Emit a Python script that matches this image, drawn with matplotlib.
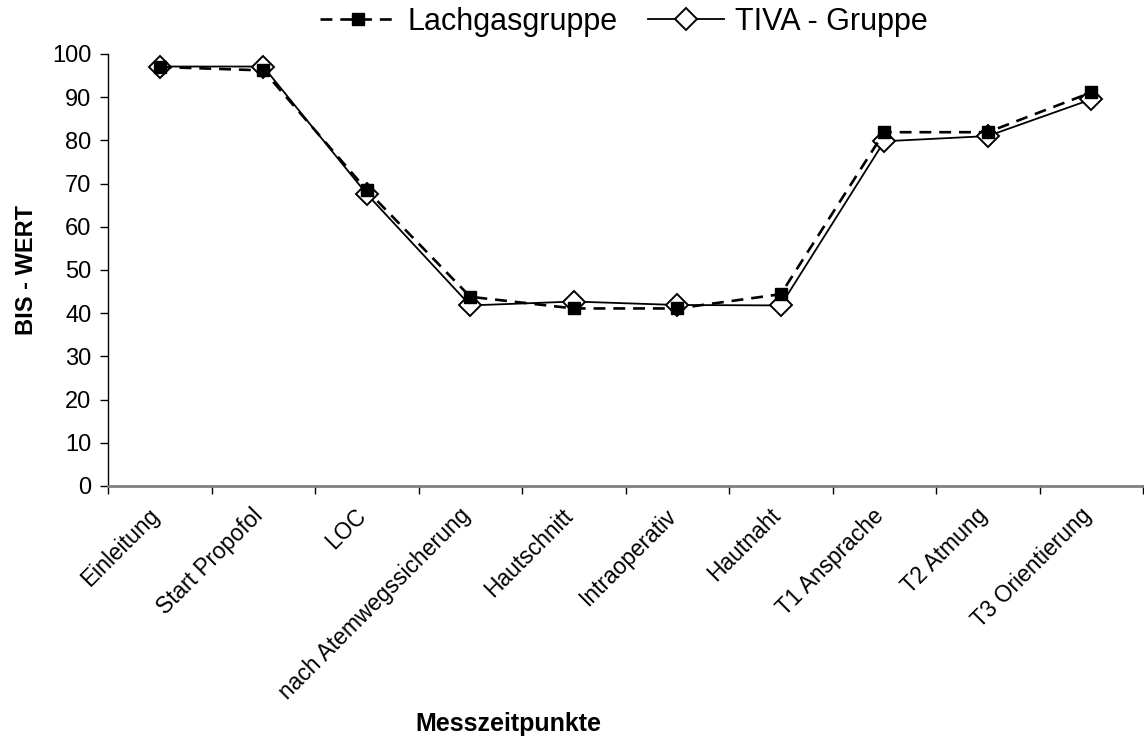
import matplotlib
matplotlib.use("Agg")
import matplotlib.pyplot as plt
import matplotlib.transforms as mtransforms
import numpy as np

plt.rcParams["font.family"] = ["Liberation Sans", "DejaVu Sans"]

CATEGORIES = [
    "Einleitung", "Start Propofol", "LOC", "nach Atemwegssicherung",
    "Hautschnitt", "Intraoperativ", "Hautnaht", "T1 Ansprache",
    "T2 Atmung", "T3 Orientierung",
]
LACHGAS = [97.0, 96.2, 68.5, 43.8, 41.1, 41.1, 44.4, 81.9, 81.9, 91.1]
TIVA = [97.1, 97.1, 67.6, 41.8, 42.7, 41.9, 41.8, 79.8, 81.0, 89.5]
YTICKS = list(range(0, 101, 10))

fig = plt.figure(figsize=(11.44, 7.4), dpi=100)
ax = fig.add_axes([108 / 1144, 1 - 486 / 740, 1035 / 1144, 432 / 740])

x = np.arange(len(CATEGORIES))
ax.plot(x, LACHGAS, color="black", linewidth=1.9, linestyle=(0, (4.5, 3)),
        marker="s", markersize=8, markerfacecolor="black",
        markeredgecolor="black", label="Lachgasgruppe", zorder=3)
ax.plot(x, TIVA, color="black", linewidth=1.3, linestyle="-",
        marker="D", markersize=11, markerfacecolor="white",
        markeredgecolor="black", markeredgewidth=1.4,
        label="TIVA - Gruppe", zorder=2)

ax.set_xlim(-0.5, len(CATEGORIES) - 0.5)
ax.set_ylim(0, 100)
ax.set_yticks(YTICKS)
ax.tick_params(axis="y", labelsize=17, direction="out", length=6, width=1, pad=6)

ax.set_xticks(x)
ax.set_xticklabels(CATEGORIES, rotation=45, ha="right", rotation_mode="anchor", fontsize=16.4)
ax.tick_params(axis="x", length=0, pad=13)
shift = mtransforms.ScaledTranslation(-0.12, 0, fig.dpi_scale_trans)
for lbl in ax.get_xticklabels():
    lbl.set_transform(lbl.get_transform() + shift)
ax.set_xticks(np.arange(len(CATEGORIES) + 1) - 0.5, minor=True)
ax.tick_params(axis="x", which="minor", length=6, width=1, direction="out")

for side in ("top", "right"):
    ax.spines[side].set_visible(False)
ax.spines["bottom"].set_color("#808080")
ax.spines["bottom"].set_linewidth(2)
ax.spines["left"].set_linewidth(1)

ax.set_ylabel("BIS - WERT", fontsize=17, fontweight="bold", labelpad=10)
fig.text(508 / 1144, 1 - 724 / 740, "Messzeitpunkte", fontsize=18,
         fontweight="bold", ha="center", va="center")

fig.legend(loc="center", bbox_to_anchor=(624 / 1144, 1 - 22 / 740), ncol=2,
           frameon=False, fontsize=22, handlelength=2.5, columnspacing=1.0,
           handletextpad=0.35, borderaxespad=0)

fig.savefig("out.png", dpi=100)
